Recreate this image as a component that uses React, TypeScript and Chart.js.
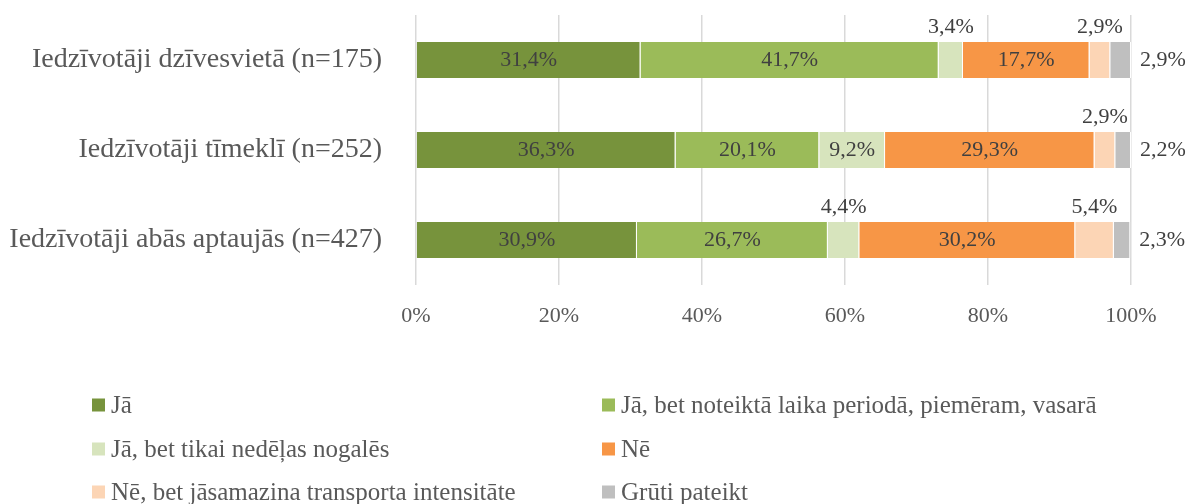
import { useEffect, useRef } from 'react';
import { Chart, registerables } from 'chart.js';

Chart.register(...registerables);

const categories = [
  'Iedzīvotāji dzīvesvietā (n=175)',
  'Iedzīvotāji tīmeklī (n=252)',
  'Iedzīvotāji abās aptaujās (n=427)',
];

const seriesNames = [
  'Jā',
  'Jā, bet noteiktā laika periodā, piemēram, vasarā',
  'Jā, bet tikai nedēļas nogalēs',
  'Nē',
  'Nē, bet jāsamazina transporta intensitāte',
  'Grūti pateikt',
];

const jaValues = [31.4, 36.3, 30.9];
const jaPeriodValues = [41.7, 20.1, 26.7];
const jaWeekendValues = [3.4, 9.2, 4.4];
const neValues = [17.7, 29.3, 30.2];
const neReduceValues = [2.9, 2.9, 5.4];
const hardToSayValues = [2.9, 2.2, 2.3];

const seriesValues = [jaValues, jaPeriodValues, jaWeekendValues, neValues, neReduceValues, hardToSayValues];

const seriesColors = ['#77933C', '#9BBB59', '#D7E4BD', '#F79646', '#FCD5B5', '#BFBFBF'];

const xTickStep = 20;
const FONT = '"Liberation Serif", "Times New Roman", serif';

const fmt = (v: number) => v.toFixed(1).replace('.', ',') + '%';

const labelsPlugin = {
  id: 'barLabels',
  afterDatasetsDraw(chart: any) {
    const ctx = chart.ctx;
    ctx.save();
    ctx.font = `22px ${FONT}`;
    ctx.fillStyle = '#404040';
    const last = chart.data.datasets.length - 1;
    chart.data.datasets.forEach((ds: any, di: number) => {
      const meta = chart.getDatasetMeta(di);
      meta.data.forEach((el: any, i: number) => {
        const v = ds.data[i];
        const { x, base, y, height } = el.getProps(['x', 'base', 'y', 'height'], true);
        const w = x - base;
        const text = fmt(v);
        if (di === last) {
          ctx.textAlign = 'left';
          ctx.textBaseline = 'middle';
          ctx.fillText(text, x + 9, y);
        } else if (w < 45) {
          ctx.textAlign = 'center';
          ctx.textBaseline = 'alphabetic';
          ctx.fillText(text, (x + base) / 2, y - height / 2 - 9);
        } else {
          ctx.textAlign = 'center';
          ctx.textBaseline = 'middle';
          ctx.fillText(text, (x + base) / 2, y);
        }
      });
    });
    ctx.restore();
  },
};

const legendPlugin = {
  id: 'gridLegend',
  afterDraw(chart: any) {
    const ctx = chart.ctx;
    ctx.save();
    ctx.font = `25px ${FONT}`;
    ctx.textAlign = 'left';
    ctx.textBaseline = 'middle';
    const colX = [92, 602];
    const rowY = [405, 449, 492];
    chart.data.datasets.forEach((ds: any, i: number) => {
      const cx = colX[i % 2];
      const cy = rowY[Math.floor(i / 2)];
      ctx.fillStyle = ds.backgroundColor;
      ctx.fillRect(cx, cy - 6.5, 13, 13);
      ctx.fillStyle = '#595959';
      ctx.fillText(ds.label, cx + 19, cy + 1);
    });
    ctx.restore();
  },
};

export default function App() {
  const ref = useRef<HTMLCanvasElement>(null);
  useEffect(() => {
    document.body.style.margin = '0';
    Chart.defaults.font.family = FONT;
    const chart = new Chart(ref.current!, {
      type: 'bar',
      data: {
        labels: categories,
        datasets: seriesNames.map((name, i) => ({
          label: name,
          data: seriesValues[i],
          backgroundColor: seriesColors[i],
          borderColor: '#ffffff',
          borderWidth: { left: 0, top: 0, bottom: 0, right: 1 },
          borderSkipped: false,
          barPercentage: 0.4,
          categoryPercentage: 1,
        })),
      },
      options: {
        indexAxis: 'y',
        responsive: false,
        animation: false,
        layout: { padding: { top: 15, right: 59, left: 0, bottom: 0 } },
        scales: {
          x: {
            stacked: true,
            min: 0,
            max: 100,
            grid: { color: '#D9D9D9', drawTicks: false, lineWidth: 1.5 },
            border: { display: false },
            ticks: {
              stepSize: xTickStep,
              padding: 18,
              color: '#595959',
              font: { size: 22, family: FONT },
              callback: (v: any) => v + '%',
            },
            afterFit: (s: any) => {
              s.height = 219;
              s.paddingLeft = 0;
              s.paddingRight = 0;
            },
          },
          y: {
            stacked: true,
            grid: { display: false },
            border: { display: false },
            ticks: { padding: 26, color: '#595959', font: { size: 28, family: FONT } },
            afterFit: (s: any) => {
              s.width = 416;
              s.paddingTop = 0;
              s.paddingBottom = 0;
            },
          },
        },
        plugins: { legend: { display: false }, tooltip: { enabled: false } },
      } as any,
      plugins: [labelsPlugin, legendPlugin],
    });
    return () => chart.destroy();
  }, []);
  return <canvas ref={ref} width={1190} height={504} style={{ display: 'block' }} />;
}
